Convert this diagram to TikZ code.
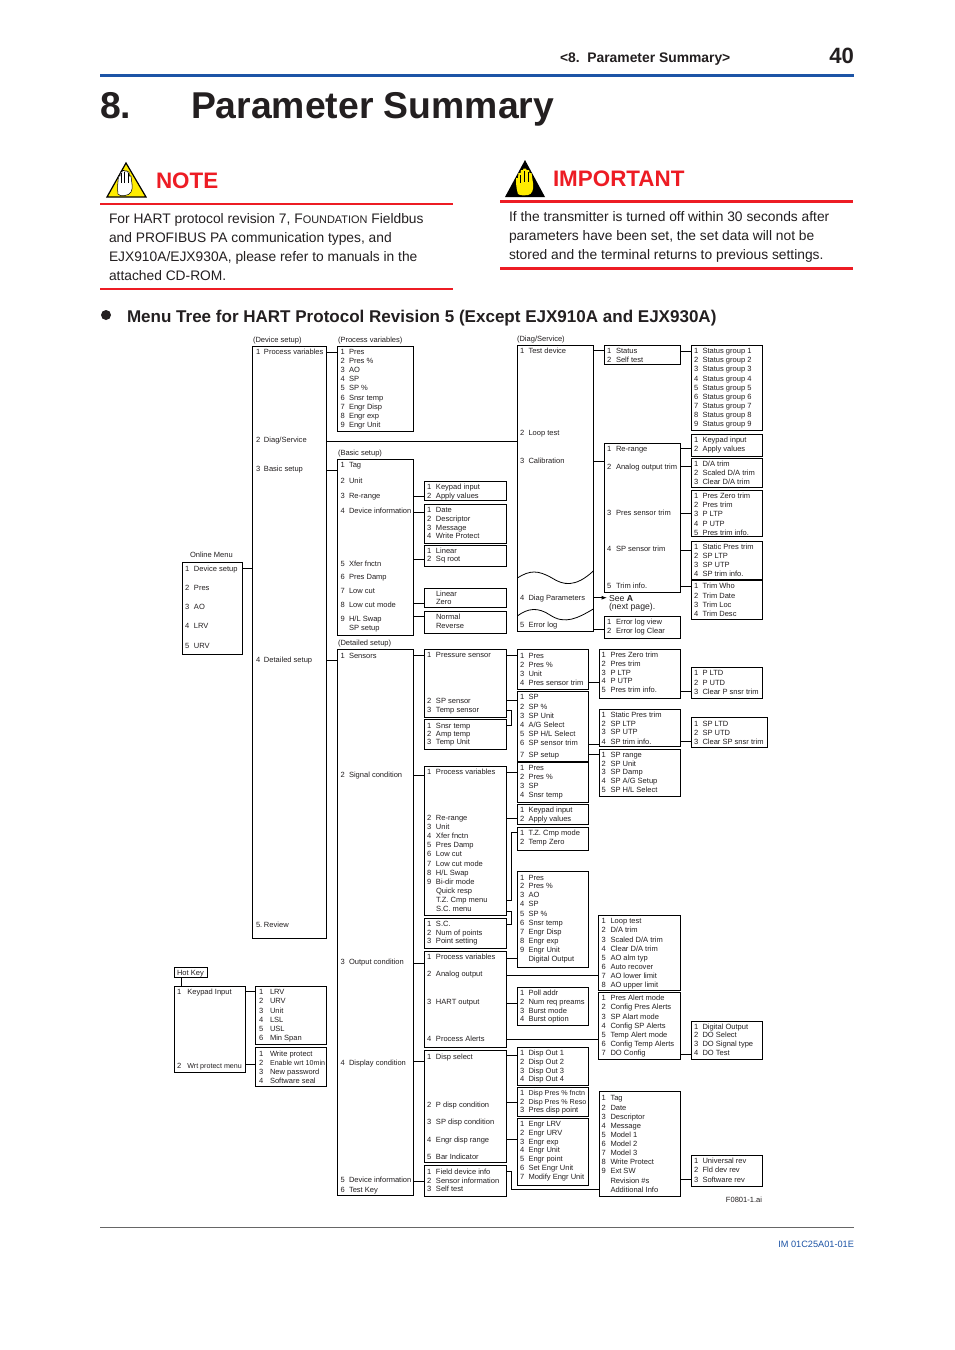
\documentclass[tikz,border=0pt]{standalone}
\usepackage{fontspec}
\setmainfont{Liberation Sans}
\usetikzlibrary{arrows.meta}
\definecolor{yblue}{RGB}{29,84,166}
\definecolor{yred}{RGB}{237,28,36}
\definecolor{ytxt}{RGB}{35,31,32}
\definecolor{yyellow}{RGB}{255,236,0}
\newcounter{tn}
\newlength{\numgap}
\newcommand\numx{0}
\newcommand\setcol[2]{\renewcommand\numx{#1}\pgfmathsetlength{\numgap}{0.75pt*(#2-#1)}}
\newcommand\itm[3]{\stepcounter{tn}\node[itm] (t\arabic{tn}) at (\numx,{#1+3}) {\makebox[\numgap][l]{#2}#3};}
\newcommand\capt[3]{\stepcounter{tn}\node[itm] (t\arabic{tn}) at (#1,{#2+3}) {#3};}
\newcommand\mbx[5]{\node[menubox,minimum width={(#4-#2)*0.75pt},minimum height={(#5-#3)*0.75pt}] (#1) at (#2,#3) {};}
\newcommand\conn[3]{\draw[wire] (#1.east |- 0,#3) -- (#2.west |- 0,#3);}
\newcommand\nrw[1]{{\fontsize{5.35pt}{6pt}\selectfont #1}}
\tikzset{
 itm/.style={anchor=base west,inner sep=0pt,outer sep=0pt,text=ytxt,font=\fontsize{5.65pt}{6pt}\selectfont},
 seetxt/.style={itm,font=\fontsize{6.5pt}{7pt}\selectfont},
 menubox/.style={draw=black,line width=0.75pt,anchor=north west,inner sep=0pt,outer sep=0pt,fill=none},
 wire/.style={draw=black,line width=0.75pt},
 head/.style={anchor=base west,inner sep=0pt,outer sep=0pt,text=ytxt},
 body/.style={head,font=\fontsize{10.35pt}{12pt}\selectfont},
}
\begin{document}
\begin{tikzpicture}[x=0.75pt,y=-0.75pt]
\useasboundingbox (0,0) rectangle (954,1350);
\fill[white] (0,0) rectangle (954,1350);
%% page header
\node[head,font=\bfseries\fontsize{10.4pt}{12pt}\selectfont] (hdr) at (560,62) {<8.\ \ Parameter Summary>};
\node[head,anchor=base east,font=\bfseries\fontsize{16.6pt}{17pt}\selectfont] (pg) at (854,63) {40};
\fill[yblue] (100,74) rectangle (854,77);
\node[head,font=\bfseries\fontsize{28pt}{30pt}\selectfont] (ch) at (100,118) {8.};
\node[head,font=\bfseries\fontsize{28pt}{30pt}\selectfont] (chtitle) at (191,118) {Parameter Summary};
%% NOTE
\fill[yyellow,draw=black,line width=0.9pt,line join=miter] (126,163) -- (146,197) -- (107,197) -- cycle;
\fill[white,draw=black,line width=0.4pt] (118,194) .. controls (117,188) and (118,182) .. (118.5,176) -- (120,176) -- (120.5,172) -- (122,172) -- (122.5,170.5) -- (124,170.5) -- (124.5,171) -- (127,171) -- (127.5,172) -- (129,172) -- (129.5,176) -- (131,176) -- (132,184) .. controls (133,190) and (131,195) .. (125,195.5) .. controls (121,196) and (119,195.5) .. (118,194) -- cycle;
\draw[black,line width=0.35pt] (121,173) -- (121,183) (124.5,172) -- (124.5,183) (128,173) -- (128,183);
\node[head,text=yred,font=\bfseries\fontsize{16.8pt}{20pt}\selectfont] (note) at (156,188) {NOTE};
\draw[yred,line width=0.9pt] (100,204) -- (453,204);
\node[body] (n1) at (109,223) {For HART protocol revision 7, F{\fontsize{8.2pt}{10pt}\selectfont OUNDATION} Fieldbus};
\node[body] (n2) at (109,242) {and PROFIBUS PA communication types, and};
\node[body] (n3) at (109,261) {EJX910A/EJX930A, please refer to manuals in the};
\node[body] (n4) at (109,280) {attached CD-ROM.};
\draw[yred,line width=1.6pt] (100,289) -- (453,289);
%% IMPORTANT
\fill[black] (525,160) -- (545,197) -- (505,197) -- cycle;
\fill[yyellow] (518,194) .. controls (516,188) and (516,182) .. (516,178) -- (518,178) -- (518.5,173) -- (520.5,173) -- (521,170) -- (523,170) -- (523.5,168.5) -- (526,168.5) -- (526.5,170) -- (529,170) -- (529.5,173) -- (531.5,173) -- (533,183) .. controls (534,190) and (532,194) .. (528,195) .. controls (524,195.5) and (520,195.5) .. (518,194) -- cycle;
\draw[black,line width=0.35pt] (520,175) -- (520,183) (524,171) -- (524,182) (528,172) -- (528,182);
\node[head,text=yred,font=\bfseries\fontsize{16.8pt}{20pt}\selectfont] (imp) at (553,186) {IMPORTANT};
\draw[yred,line width=2.2pt] (500,201.5) -- (853,201.5);
\node[body] (i1) at (509,221) {If the transmitter is turned off within 30 seconds after};
\node[body] (i2) at (509,240) {parameters have been set, the set data will not be};
\node[body] (i3) at (509,259) {stored and the terminal returns to previous settings.};
\draw[yred,line width=2.2pt] (500,268.5) -- (853,268.5);
%% heading
\fill[ytxt] (106,315) circle (5);
\node[head,font=\bfseries\fontsize{12.77pt}{14pt}\selectfont] (mt) at (127,322) {Menu Tree for HART Protocol Revision 5 (Except EJX910A and EJX930A)};
%% captions
\capt{253}{339}{(Device setup)}
\capt{338}{339.5}{(Process variables)}
\capt{517}{338}{(Diag/Service)}
\capt{338}{452.6}{(Basic setup)}
\capt{338}{642.3}{(Detailed setup)}
\capt{190}{554}{Online Menu}
\capt{177}{972.5}{Hot Key}
\stepcounter{tn}\node[itm,anchor=base east] (t\arabic{tn}) at (762,1202) {F0801-1.ai};
%% boxes
\mbx{online}{182.7}{562.3}{242.7}{654.3}
\mbx{device}{252.3}{346}{326.7}{938.3}
\mbx{pv}{337}{346}{413.3}{431}
\mbx{basic}{337}{459.3}{413.3}{635.3}
\mbx{bkey}{424.3}{481.3}{506.7}{500.7}
\mbx{date}{424.3}{504}{506.7}{543.3}
\mbx{lin}{424.3}{545.7}{506.7}{566.3}
\mbx{linz}{424.3}{588}{506.7}{607.7}
\mbx{norm}{424.3}{611}{506.7}{633}
\mbx{diag}{517.3}{345.3}{593.3}{631.7}
\mbx{status}{604.3}{345.3}{680.7}{364.3}
\mbx{sgroup}{691.3}{345.3}{762.3}{430.7}
\mbx{ckey}{691.3}{434.3}{762.3}{456}
\mbx{calib}{604.3}{443.3}{680.7}{592.3}
\mbx{datrim}{691.3}{458.7}{762.3}{487.7}
\mbx{pztrim}{691.3}{490.3}{762.3}{536.7}
\mbx{sptrim}{691.3}{541}{762.3}{579}
\mbx{trim}{691.3}{580}{762.3}{619}
\mbx{elog}{604.3}{616}{680.7}{638.3}
\mbx{detail}{337}{649.3}{413.3}{1195.3}
\mbx{sens}{424.3}{649.3}{506.7}{717.3}
\mbx{tsens}{424.3}{719.3}{506.7}{749.3}
\mbx{psens}{517.3}{649.3}{588.7}{689.3}
\mbx{spsens}{517.3}{691}{588.7}{761.2}
\mbx{pz2}{599.3}{649.3}{680.3}{698.7}
\mbx{pltd}{691.3}{667.3}{762.3}{698.7}
\mbx{sp2}{599.3}{709.3}{680.3}{746.7}
\mbx{spltd}{691.3}{717.3}{767.7}{747.7}
\mbx{sprng}{599.3}{749.3}{680.3}{796.7}
\mbx{sig}{424.3}{766}{506.7}{915.3}
\mbx{pv4}{517.3}{762}{588.7}{802.3}
\mbx{skey}{517.3}{804.3}{588.7}{824.3}
\mbx{tz}{517.3}{827.3}{588.7}{850}
\mbx{sc}{424.3}{918.3}{506.7}{948.3}
\mbx{out}{424.3}{951.7}{506.7}{1047.3}
\mbx{opv}{517.3}{871.7}{588.7}{967.3}
\mbx{loop}{598.3}{915.3}{680.3}{990}
\mbx{poll}{517.3}{987.3}{588.7}{1025}
\mbx{alert}{598.3}{992.3}{680.3}{1059}
\mbx{dout}{691.3}{1021.7}{762.3}{1059}
\mbx{disp}{424.3}{1050.3}{506.7}{1162.3}
\mbx{dsel}{517.3}{1047.3}{588.7}{1085.7}
\mbx{dpres}{517.3}{1087.3}{588.7}{1116.3}
\mbx{engr}{517.3}{1118.3}{588.7}{1185.7}
\mbx{fdi}{424.3}{1165.7}{506.7}{1196.3}
\mbx{ftag}{599.3}{1091.7}{680.3}{1196.3}
\mbx{urev}{691.3}{1155.7}{762.3}{1186}
\mbx{hot}{174.7}{967.7}{207.7}{977.7}
\mbx{kin}{174.7}{986.3}{245.7}{1072.3}
\mbx{lrv}{255.7}{986.3}{326.7}{1044.3}
\mbx{wp}{255.7}{1047.7}{326.7}{1086.3}
%% connectors
\conn{online}{device}{568}
\conn{device}{pv}{352}
\conn{device}{diag}{441}
\conn{device}{basic}{470.7}
\conn{device}{detail}{660}
\conn{basic}{bkey}{496.3}
\conn{basic}{date}{512.7}
\conn{basic}{lin}{559.3}
\conn{basic}{linz}{603.3}
\conn{basic}{norm}{616.7}
\conn{diag}{status}{350.5}
\conn{status}{sgroup}{351}
\conn{diag}{calib}{461.7}
\conn{calib}{ckey}{448}
\conn{calib}{datrim}{466.3}
\conn{calib}{pztrim}{513}
\conn{calib}{sptrim}{550}
\conn{calib}{trim}{586}
\conn{diag}{elog}{629.3}
\conn{detail}{sens}{655}
\conn{sens}{psens}{655}
\conn{psens}{pz2}{682.7}
\conn{pz2}{pltd}{691.7}
\conn{sens}{spsens}{700}
\conn{spsens}{sp2}{744}
\conn{sp2}{spltd}{741.7}
\conn{spsens}{sprng}{754.3}
\conn{detail}{sig}{775}
\conn{sig}{pv4}{772}
\conn{sig}{skey}{818.3}
\conn{detail}{out}{963.3}
\conn{out}{opv}{958.3}
\conn{out}{loop}{975.3}
\conn{out}{poll}{1003.3}
\conn{out}{alert}{1039}
\conn{alert}{dout}{1054.3}
\conn{detail}{disp}{1061.7}
\conn{disp}{dsel}{1055.7}
\conn{disp}{dpres}{1102.3}
\conn{disp}{engr}{1139.3}
\conn{detail}{fdi}{1181.7}
\conn{ftag}{urev}{1179}
\conn{kin}{lrv}{991}
\conn{kin}{wp}{1064.3}
\draw[wire] (sens.east |- 0,710) -- (511.7,710) -- (511.7,725) -- (tsens.east |- 0,725);
\draw[wire] (sig.east |- 0,911.5) -- (511.7,911.5) -- (511.7,924.3) -- (sc.east |- 0,924.3);
\draw[wire] (tz.west |- 0,832.3) -- (511.7,832.3) -- (511.7,900) -- (sig.east |- 0,900);
\draw[wire] (fdi.east |- 0,1171.7) -- (511.7,1171.7) -- (511.7,1189) -- (ftag.west |- 0,1189);
\draw[wire] (hot.south -| 181,0) -- (kin.north -| 181,0);
\coordinate (seea) at (607,597.7);
\draw[wire,-{Latex[length=4pt,width=3pt]}] (diag.east |- 0,597.7) -- (seea);
\draw[black,line width=0.6pt] (517.3,578) .. controls (530,570) and (538,570) .. (552,578) .. controls (563,585) and (575,588) .. (593.3,571);
\draw[black,line width=0.6pt] (517.3,616) .. controls (528,608) and (538,607) .. (550,615) .. controls (565,625) and (578,618) .. (593.3,609);
%% texts
\setcol{185}{194}
\itm{568}{1}{Device setup}\itm{587}{2}{Pres}\itm{606}{3}{AO}\itm{625}{4}{LRV}\itm{645}{5}{URV}
\setcol{256}{264}
\itm{351}{1}{Process variables}\itm{439.3}{2}{Diag/Service}\itm{468}{3}{Basic setup}\itm{659}{4}{Detailed setup}\itm{924.3}{5.}{Review}
\setcol{340.5}{349}
\itm{351}{1}{Pres}\itm{360}{2}{Pres \%}\itm{369}{3}{AO}\itm{378}{4}{SP}\itm{387.5}{5}{SP \%}\itm{397}{6}{Snsr temp}\itm{406}{7}{Engr Disp}\itm{415}{8}{Engr exp}\itm{424}{9}{Engr Unit}
\itm{464.3}{1}{Tag}\itm{480}{2}{Unit}\itm{495.3}{3}{Re-range}\itm{510.3}{4}{Device information}\itm{563.3}{5}{Xfer fnctn}\itm{576.3}{6}{Pres Damp}\itm{590.3}{7}{Low cut}\itm{604.3}{8}{Low cut mode}\itm{618.3}{9}{H/L Swap}\itm{627.7}{}{SP setup}
\itm{655}{1}{Sensors}\itm{774.3}{2}{Signal condition}\itm{961}{3}{Output condition}\itm{1062.3}{4}{Display condition}\itm{1179.3}{5}{Device information}\itm{1189}{6}{Test Key}
\setcol{427}{436}
\itm{486.3}{1}{Keypad input}\itm{495.3}{2}{Apply values}
\itm{509.3}{1}{Date}\itm{518.3}{2}{Descriptor}\itm{527.3}{3}{Message}\itm{535.7}{4}{Write Protect}
\itm{550.3}{1}{Linear}\itm{558.3}{2}{Sq root}
\itm{593}{}{Linear}\itm{601.5}{}{Zero}\itm{616.3}{}{Normal}\itm{625.3}{}{Reverse}
\itm{654.5}{1}{Pressure sensor}\itm{700}{2}{SP sensor}\itm{709.3}{3}{Temp sensor}
\itm{725}{1}{Snsr temp}\itm{733.7}{2}{Amp temp}\itm{741.7}{3}{Temp Unit}
\itm{771.3}{1}{Process variables}\itm{817.3}{2}{Re-range}\itm{826}{3}{Unit}\itm{835}{4}{Xfer fnctn}\itm{844.3}{5}{Pres Damp}\itm{853.3}{6}{Low cut}\itm{863}{7}{Low cut mode}\itm{872}{8}{H/L Swap}\itm{881}{9}{Bi-dir mode}\itm{890}{}{Quick resp}\itm{899}{}{T.Z. Cmp menu}\itm{908}{}{S.C. menu}
\itm{923.3}{1}{S.C.}\itm{932.3}{2}{Num of points}\itm{940.7}{3}{Point setting}
\itm{956.3}{1}{Process variables}\itm{973.3}{2}{Analog output}\itm{1001.3}{3}{HART output}\itm{1038.3}{4}{Process Alerts}
\itm{1056.3}{1}{Disp select}\itm{1104.3}{2}{P disp condition}\itm{1121.3}{3}{SP disp condition}\itm{1139.3}{4}{Engr disp range}\itm{1156.3}{5}{Bar Indicator}
\itm{1171}{1}{Field device info}\itm{1180}{2}{Sensor information}\itm{1188.3}{3}{Self test}
\setcol{520}{528.5}
\itm{350}{1}{Test device}\itm{432.3}{2}{Loop test}\itm{460}{3}{Calibration}\itm{597.3}{4}{Diag Parameters}\itm{624.3}{5}{Error log}
\itm{655}{1}{Pres}\itm{664}{2}{Pres \%}\itm{673}{3}{Unit}\itm{682.5}{4}{Pres sensor trim}
\itm{696.3}{1}{SP}\itm{706.3}{2}{SP \%}\itm{715}{3}{SP Unit}\itm{724}{4}{A/G Select}\itm{733}{5}{SP H/L Select}\itm{742.3}{6}{SP sensor trim}\itm{754.3}{7}{SP setup}
\itm{767.5}{1}{Pres}\itm{776}{2}{Pres \%}\itm{785}{3}{SP}\itm{794}{4}{Snsr temp}
\itm{809.3}{1}{Keypad input}\itm{818.3}{2}{Apply values}
\itm{832.5}{1}{T.Z. Cmp mode}\itm{841.5}{2}{Temp Zero}
\itm{877}{1}{Pres}\itm{885.7}{2}{Pres \%}\itm{894.5}{3}{AO}\itm{903.5}{4}{SP}\itm{913}{5}{SP \%}\itm{922.3}{6}{Snsr temp}\itm{931}{7}{Engr Disp}\itm{940}{8}{Engr exp}\itm{949}{9}{Engr Unit}\itm{958}{}{Digital Output}
\itm{992.3}{1}{Poll addr}\itm{1001}{2}{Num req preams}\itm{1010}{3}{Burst mode}\itm{1018.3}{4}{Burst option}
\itm{1052.3}{1}{Disp Out 1}\itm{1061.3}{2}{Disp Out 2}\itm{1070}{3}{Disp Out 3}\itm{1078}{4}{Disp Out 4}
\itm{1092.7}{1}{\nrw{Disp Pres \% fnctn}}\itm{1101.7}{2}{\nrw{Disp Pres \% Reso}}\itm{1109.7}{3}{Pres disp point}
\itm{1123.3}{1}{Engr LRV}\itm{1132.3}{2}{Engr URV}\itm{1141.3}{3}{Engr exp}\itm{1149.3}{4}{Engr Unit}\itm{1158.3}{5}{Engr point}\itm{1167.3}{6}{Set Engr Unit}\itm{1176}{7}{Modify Engr Unit}
\setcol{607}{616}
\itm{350.3}{1}{Status}\itm{359.3}{2}{Self test}
\itm{448.3}{1}{Re-range}\itm{466.3}{2}{Analog output trim}\itm{512.3}{3}{Pres sensor trim}\itm{548.3}{4}{SP sensor trim}\itm{585}{5}{Trim info.}
\itm{621.5}{1}{Error log view}\itm{630.5}{2}{Error log Clear}
\setcol{601.5}{610.5}
\itm{654.3}{1}{Pres Zero trim}\itm{663.3}{2}{Pres trim}\itm{672}{3}{P LTP}\itm{680}{4}{P UTP}\itm{689}{5}{Pres trim info.}
\itm{714.3}{1}{Static Pres trim}\itm{723}{2}{SP LTP}\itm{731.5}{3}{SP UTP}\itm{741}{4}{SP trim info.}
\itm{754.3}{1}{SP range}\itm{763}{2}{SP Unit}\itm{771.5}{3}{SP Damp}\itm{780}{4}{SP A/G Setup}\itm{789}{5}{SP H/L Select}
\itm{920.3}{1}{Loop test}\itm{929.3}{2}{D/A trim}\itm{939}{3}{Scaled D/A trim}\itm{948}{4}{Clear D/A trim}\itm{957}{5}{AO alm typ}\itm{966}{6}{Auto recover}\itm{975}{7}{AO lower limit}\itm{984}{8}{AO upper limit}
\itm{997.3}{1}{Pres Alert mode}\itm{1006.3}{2}{Config Pres Alerts}\itm{1016.3}{3}{SP Alart mode}\itm{1025}{4}{Config SP Alerts}\itm{1034}{5}{Temp Alert mode}\itm{1043}{6}{Config Temp Alerts}\itm{1052}{7}{DO Config}
\itm{1097}{1}{Tag}\itm{1107}{2}{Date}\itm{1116}{3}{Descriptor}\itm{1125}{4}{Message}\itm{1134}{5}{Model 1}\itm{1143}{6}{Model 2}\itm{1152}{7}{Model 3}\itm{1161}{8}{Write Protect}\itm{1170}{9}{Ext SW}\itm{1180}{}{Revision \#s}\itm{1189}{}{Additional Info}
\setcol{694}{702.5}
\itm{350.3}{1}{Status group 1}\itm{359.3}{2}{Status group 2}\itm{368.3}{3}{Status group 3}\itm{378.3}{4}{Status group 4}\itm{387.5}{5}{Status group 5}\itm{396.5}{6}{Status group 6}\itm{405.5}{7}{Status group 7}\itm{414.5}{8}{Status group 8}\itm{423.5}{9}{Status group 9}
\itm{439.5}{1}{Keypad input}\itm{448.5}{2}{Apply values}
\itm{463.7}{1}{D/A trim}\itm{472}{2}{Scaled D/A trim}\itm{481.5}{3}{Clear D/A trim}
\itm{495}{1}{Pres Zero trim}\itm{504}{2}{Pres trim}\itm{513}{3}{P LTP}\itm{523}{4}{P UTP}\itm{532}{5}{Pres trim info.}
\itm{546}{1}{Static Pres trim}\itm{555}{2}{SP LTP}\itm{564}{3}{SP UTP}\itm{573.3}{4}{SP trim info.}
\itm{585}{1}{Trim Who}\itm{595}{2}{Trim Date}\itm{604}{3}{Trim Loc}\itm{613}{4}{Trim Desc}
\itm{672.3}{1}{P LTD}\itm{682}{2}{P UTD}\itm{691}{3}{Clear P snsr trim}
\itm{723}{1}{SP LTD}\itm{732}{2}{SP UTD}\itm{741.7}{3}{Clear SP snsr trim}
\itm{1026.3}{1}{Digital Output}\itm{1034}{2}{DO Select}\itm{1043}{3}{DO Signal type}\itm{1052}{4}{DO Test}
\itm{1160}{1}{Universal rev}\itm{1169}{2}{Fld dev rev}\itm{1179}{3}{Software rev}
\setcol{259}{270}
\itm{991.3}{1}{LRV}\itm{1000.3}{2}{URV}\itm{1010}{3}{Unit}\itm{1019}{4}{LSL}\itm{1028}{5}{USL}\itm{1037.3}{6}{Min Span}
\itm{1053.3}{1}{Write protect}\itm{1062.3}{2}{\nrw{Enable wrt 10min}}\itm{1071.3}{3}{New password}\itm{1080.3}{4}{Software seal}
\setcol{177}{187.3}
\itm{991.3}{1}{Keypad Input}\itm{1065.7}{2}{\nrw{Wrt protect menu}}
%% see A
\stepcounter{tn}\node[seetxt] (t\arabic{tn}) at (609,601) {See \textbf{A}};
\stepcounter{tn}\node[seetxt] (t\arabic{tn}) at (609,609.5) {(next page).};
%% footer
\draw[black!60,line width=0.6pt] (100,1227) -- (854,1227);
\node[head,anchor=base east,text=yblue,font=\fontsize{6.9pt}{8pt}\selectfont] (im) at (854,1247) {IM 01C25A01-01E};
\end{tikzpicture}
\end{document}
